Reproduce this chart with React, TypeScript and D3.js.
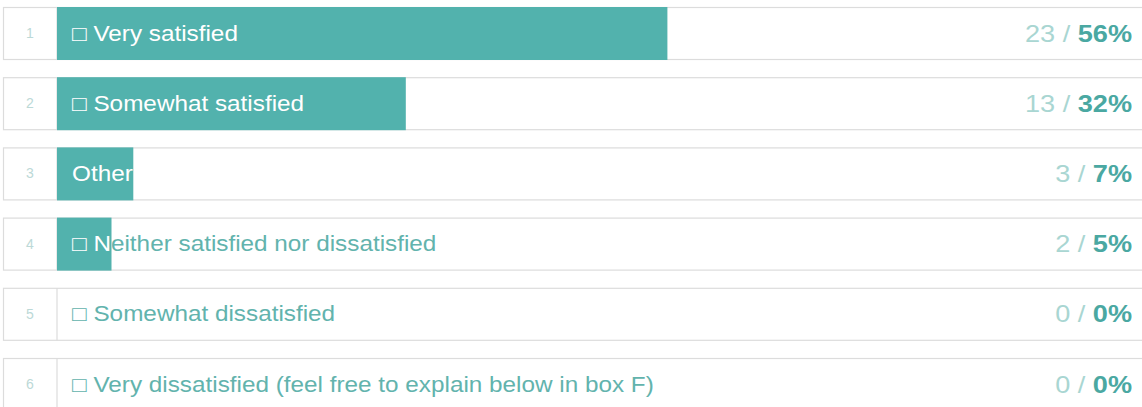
import React from "react";
import * as d3 from "d3";

const labels = [
  "□ Very satisfied",
  "□ Somewhat satisfied",
  "Other",
  "□ Neither satisfied nor dissatisfied",
  "□ Somewhat dissatisfied",
  "□ Very dissatisfied (feel free to explain below in box F)",
];
const counts = [23, 13, 3, 2, 0, 0];
const percents = [56, 32, 7, 5, 0, 0];
const ranks = ["1", "2", "3", "4", "5", "6"];

const W = 1142;
const H = 407;
const boxLeft = 3.5;
const numColRight = 57;
const rowTop = 7;
const rowStep = 70.2;
const rowH = 52;

const BAR = "#52b2ad";
const LABEL_OFF = "#62b3ad";
const COUNT = "#a9d6d2";
const PCT = "#4aa8a2";
const BORDER = "#dcdcdc";
const RANK = "#bcd9d7";
const FONT = "'Liberation Sans', Arial, sans-serif";
const SX = 1.13;

export default function App() {
  const x = d3.scaleLinear().domain([0, 100]).range([numColRight, numColRight + 1090]);
  const y = d3.scaleLinear().domain([0, 1]).range([rowTop, rowTop + rowStep]);

  return (
    <svg
      width={W}
      height={H}
      style={{ position: "absolute", left: 0, top: 0, background: "#fff" }}
      fontFamily={FONT}
    >
      <defs>
        {labels.map((_, i) => (
          <clipPath id={`bar-clip-${i}`} key={i}>
            <rect x={x(0)} y={y(i)} width={x(percents[i]) - x(0)} height={rowH} />
          </clipPath>
        ))}
      </defs>
      {labels.map((label, i) => {
        const top = y(i);
        const mid = top + rowH / 2;
        return (
          <g key={i}>
            <rect x={boxLeft} y={top + 0.5} width={W + 20} height={rowH} fill="#fff" stroke={BORDER} strokeWidth={1.2} />
            <line x1={numColRight} x2={numColRight} y1={top + 0.5} y2={top + rowH + 0.5} stroke={BORDER} strokeWidth={1.2} />
            {percents[i] > 0 && (
              <rect x={x(0)} y={top} width={x(percents[i]) - x(0)} height={rowH + 1} fill={BAR} />
            )}
            <text x={30} y={mid + 5} fontSize={14} fill={RANK} textAnchor="middle">
              {ranks[i]}
            </text>
            <text transform={`translate(72,${mid + 7.5}) scale(${SX},1)`} fontSize={21.5} fill={LABEL_OFF}>
              {label}
            </text>
            <g clipPath={`url(#bar-clip-${i})`}>
              <text transform={`translate(72,${mid + 7.5}) scale(${SX},1)`} fontSize={21.5} fill="#fff">
                {label}
              </text>
            </g>
            <text transform={`translate(1132,${mid + 8.5}) scale(${SX},1)`} fontSize={24} textAnchor="end">
              <tspan fill={COUNT}>{`${counts[i]} / `}</tspan>
              <tspan fill={PCT} fontWeight="bold">{`${percents[i]}%`}</tspan>
            </text>
          </g>
        );
      })}
    </svg>
  );
}
